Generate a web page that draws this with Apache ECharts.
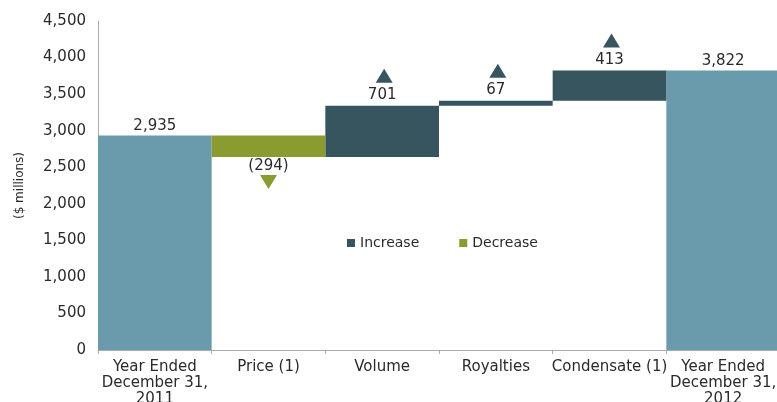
<!DOCTYPE html>
<html>
<head>
<meta charset="utf-8">
<script src="https://cdn.jsdelivr.net/npm/echarts@6/dist/echarts.min.js"></script>
<style>
  html, body { margin: 0; padding: 0; background: #fff; }
  #chart { width: 777px; height: 402px; }
</style>
</head>
<body>
<div id="chart"></div>
<script>
// Revenue bridge, 2011 to 2012 ($ millions)
const categories = [
  'Year Ended\nDecember 31,\n2011',
  'Price (1)',
  'Volume',
  'Royalties',
  'Condensate (1)',
  'Year Ended\nDecember 31,\n2012'
];
const startTotal = 2935;
const endTotal = 3822;
// Changes between the two year-end totals (negative = decrease)
const changes = [-294, 701, 67, 413];
const yTicks = [0, 500, 1000, 1500, 2000, 2500, 3000, 3500, 4000, 4500];

const COL_TOTAL = '#6a9bad';
const COL_UP = '#36555f';
const COL_DOWN = '#8a9b30';
const FONT = 'DejaVu Sans';
const TEXT = '#2a2a2a';
const FS = 15;

// Build the stacked waterfall columns
const base = [0];
const totals = [startTotal];
const ups = ['-'];
const downs = ['-'];
const upTips = ['-'];
const downTips = ['-'];
let running = startTotal;
changes.forEach(c => {
  totals.push('-');
  if (c >= 0) {
    base.push(running);
    ups.push(c);
    downs.push('-');
    upTips.push(running + c);
    downTips.push('-');
    running += c;
  } else {
    running += c;
    base.push(running);
    ups.push('-');
    downs.push(-c);
    upTips.push('-');
    downTips.push(running);
  }
});
base.push(0);
totals.push(endTotal);
ups.push('-');
downs.push('-');
upTips.push('-');
downTips.push('-');

const fmt = v => v.toLocaleString('en-US');

const chart = echarts.init(document.getElementById('chart'), null, { renderer: 'canvas' });
chart.setOption({
  animation: false,
  backgroundColor: '#fff',
  textStyle: { fontFamily: FONT },
  grid: { left: 98, top: 21, width: 682, height: 329, outerBoundsMode: 'none', containLabel: false },
  legend: {
    data: ['Increase', 'Decrease'],
    left: 342,
    top: 231,
    icon: 'rect',
    itemWidth: 8,
    itemHeight: 8,
    itemGap: 40,
    textStyle: { fontFamily: FONT, fontSize: 14, color: TEXT }
  },
  xAxis: {
    type: 'category',
    data: categories,
    axisLine: { lineStyle: { color: '#aaa', width: 1 } },
    axisTick: { show: true, length: 4, lineStyle: { color: '#aaa' } },
    axisLabel: {
      interval: 0,
      fontFamily: FONT,
      fontSize: FS,
      color: TEXT,
      lineHeight: 16,
      margin: 9
    }
  },
  yAxis: {
    type: 'value',
    min: yTicks[0],
    max: yTicks[yTicks.length - 1],
    interval: 500,
    name: '($ millions)',
    nameLocation: 'middle',
    nameRotate: 90,
    nameGap: 72,
    nameTextStyle: { fontFamily: FONT, fontSize: 12, color: TEXT },
    axisLine: { show: true, lineStyle: { color: '#aaa', width: 1 } },
    axisTick: { show: false },
    splitLine: { show: false },
    axisLabel: {
      fontFamily: FONT,
      fontSize: FS,
      color: TEXT,
      margin: 12,
      formatter: v => fmt(v)
    }
  },
  series: [
    {
      name: 'base',
      type: 'bar',
      stack: 'wf',
      barCategoryGap: '0%',
      itemStyle: { color: 'transparent' },
      emphasis: { disabled: true },
      data: base
    },
    {
      name: 'Total',
      type: 'bar',
      stack: 'wf',
      itemStyle: { color: COL_TOTAL },
      label: {
        show: true,
        position: 'top',
        distance: 2,
        fontFamily: FONT,
        fontSize: FS,
        color: TEXT,
        formatter: p => fmt(p.value)
      },
      data: totals
    },
    {
      name: 'Increase',
      type: 'bar',
      stack: 'wf',
      itemStyle: { color: COL_UP },
      label: {
        show: true,
        position: 'top',
        distance: 3,
        fontFamily: FONT,
        fontSize: FS,
        color: TEXT,
        formatter: p => fmt(p.value)
      },
      data: ups
    },
    {
      name: 'Decrease',
      type: 'bar',
      stack: 'wf',
      itemStyle: { color: COL_DOWN },
      label: {
        show: true,
        position: 'bottom',
        distance: 2,
        fontFamily: FONT,
        fontSize: FS,
        color: TEXT,
        formatter: p => '(' + fmt(p.value) + ')'
      },
      data: downs
    },
    {
      name: 'upArrow',
      type: 'scatter',
      symbol: 'triangle',
      symbolSize: [17, 14],
      symbolOffset: [2, -30],
      itemStyle: { color: COL_UP, opacity: 1 },
      data: upTips
    },
    {
      name: 'downArrow',
      type: 'scatter',
      symbol: 'triangle',
      symbolRotate: 180,
      symbolSize: [17, 14],
      symbolOffset: [0, 25],
      itemStyle: { color: COL_DOWN, opacity: 1 },
      data: downTips
    }
  ]
});
</script>
</body>
</html>
